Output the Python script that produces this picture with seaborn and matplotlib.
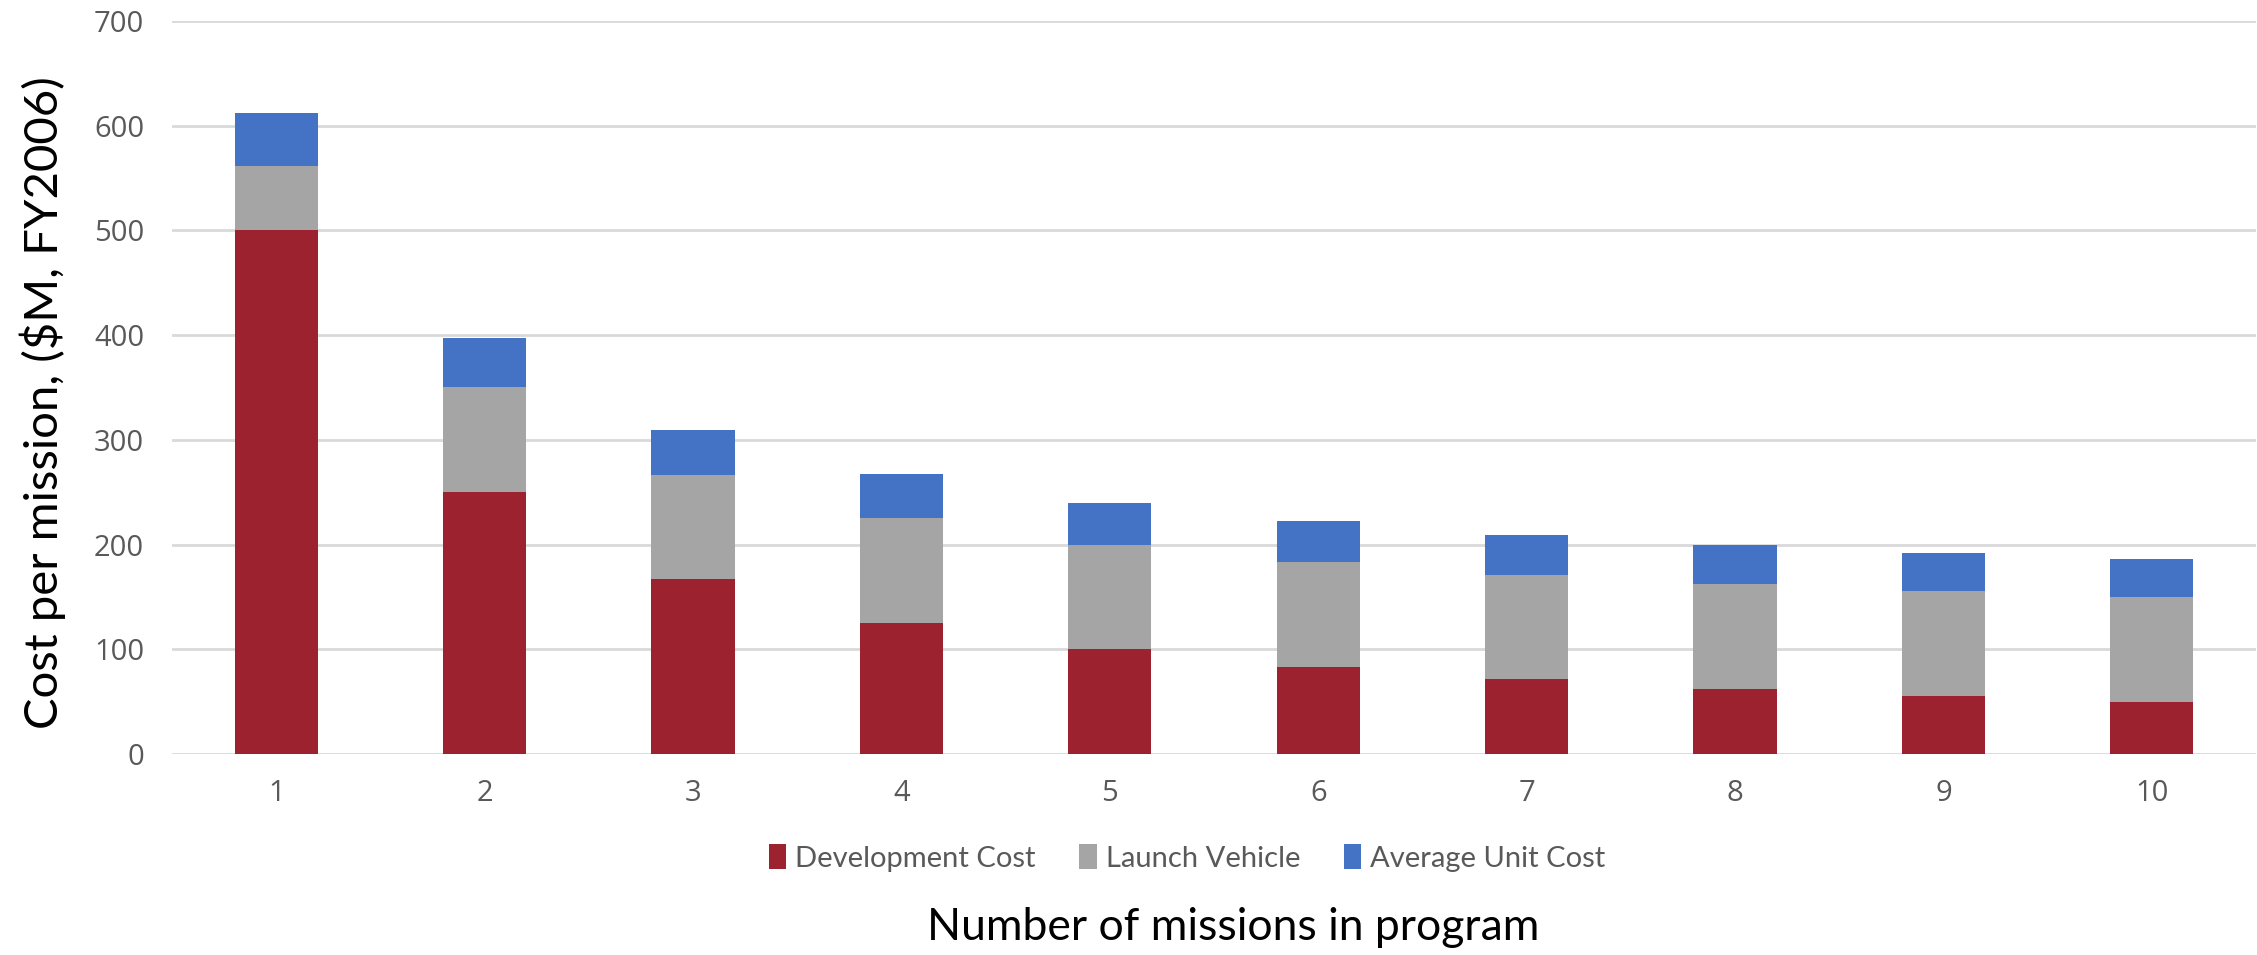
import matplotlib
matplotlib.use("Agg")
import matplotlib.pyplot as plt
from matplotlib.patches import Patch
import numpy as np
import pandas as pd
import seaborn as sns

# Cost per mission broken down by component ($M, FY2006)
missions = [1, 2, 3, 4, 5, 6, 7, 8, 9, 10]
development_cost = [500, 250, 166.7, 125, 100, 83.3, 71.4, 62.5, 55.6, 50]
launch_vehicle = [62, 100, 100, 100, 100, 100, 100, 100, 100, 100]
average_unit_cost = [50, 47, 43, 42, 40, 39, 38, 37, 36, 36]

series_names = ["Development Cost", "Launch Vehicle", "Average Unit Cost"]
colors = ["#9C2230", "#A5A5A5", "#4472C4"]

df = pd.DataFrame({
    "missions": missions,
    "dev": development_cost,
    "lv": launch_vehicle,
    "auc": average_unit_cost,
})
df["dev_lv"] = df["dev"] + df["lv"]
df["total"] = df["dev_lv"] + df["auc"]

sns.set_theme(style="white")
plt.rcParams["font.family"] = ["Open Sans", "DejaVu Sans"]

fig = plt.figure(figsize=(22.57, 9.55), dpi=100)
ax = fig.add_axes([172 / 2257, 1 - 754 / 955, (2256 - 172) / 2257, (754 - 21) / 955])

# stacked bars: draw cumulative heights from top segment down
for col, color in zip(["total", "dev_lv", "dev"], colors[::-1]):
    sns.barplot(data=df, x="missions", y=col, color=color, width=0.4,
                saturation=1, ax=ax, zorder=3, linewidth=0)

ax.set_ylim(0, 700)
ax.set_yticks(np.arange(0, 701, 100))
ax.grid(axis="y", color="#D9D9D9", linewidth=2, zorder=0)
ax.grid(axis="x", visible=False)
for s in ax.spines.values():
    s.set_visible(False)
ax.tick_params(axis="both", length=0, labelsize=21, labelcolor="#595959")
ax.tick_params(axis="y", pad=20)
ax.tick_params(axis="x", pad=18)
ax.set_xlabel("")
ax.set_ylabel("")

fig.text(43 / 2257, 1 - 403 / 955, "Cost per mission, ($M, FY2006)",
         rotation=90, ha="center", va="center", fontsize=34,
         family=["Lato", "DejaVu Sans"], color="black")
fig.text(1233 / 2257, 1 - 927 / 955, "Number of missions in program",
         ha="center", va="center", fontsize=32,
         family=["Lato", "DejaVu Sans"], color="black")

handles = [Patch(facecolor=c, edgecolor="none") for c in colors]
fig.legend(handles, series_names, loc="center", bbox_to_anchor=(1187 / 2257, 1 - 858 / 955),
           ncol=3, frameon=False, handlelength=0.6, handleheight=0.9,
           handletextpad=0.3, columnspacing=1.5,
           prop={"family": ["Lato", "DejaVu Sans"], "size": 21},
           labelcolor="#595959")

fig.savefig("out.png", dpi=100)
